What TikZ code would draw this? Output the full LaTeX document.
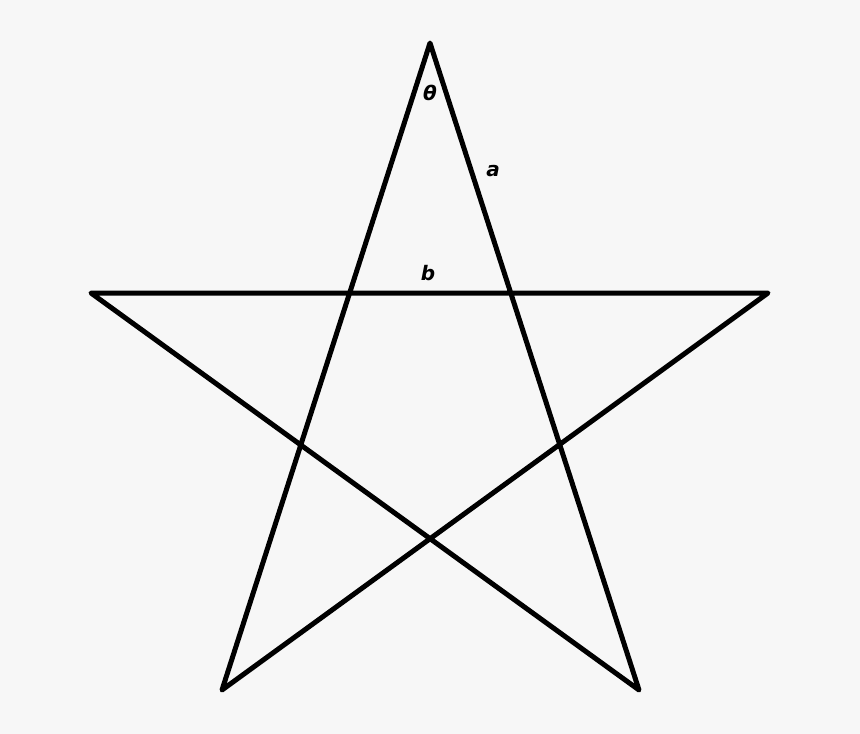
\documentclass[tikz,border=0pt]{standalone}
\usepackage{fontspec}
\setmainfont{DejaVu Sans}
\usetikzlibrary{positioning}
\definecolor{bg}{HTML}{F7F7F7}

\begin{document}
\begin{tikzpicture}[x=1pt,y=-1pt]
\tikzstyle{edge}=[line width=5pt, draw=black, line join=round]
\tikzstyle{lbl}=[inner sep=0pt, font=\fontsize{20}{24}\selectfont\bfseries\itshape]
  \fill[bg] (0,0) rectangle (860,734);
  \useasboundingbox (0,0) rectangle (860,734);
  \coordinate (top) at (430,43);
  \coordinate (left) at (91,293);
  \coordinate (right) at (768,293);
  \coordinate (botleft) at (222,690);
  \coordinate (botright) at (639,690);
  \draw[edge] (top) -- (botleft) -- (right) -- (left) -- (botright) -- cycle;
  \node[lbl] (theta) at (430,93) {θ};
  \node[lbl] (a) at (493,171) {a};
  \node[lbl] (b) at (428,273) {b};
\end{tikzpicture}
\end{document}
